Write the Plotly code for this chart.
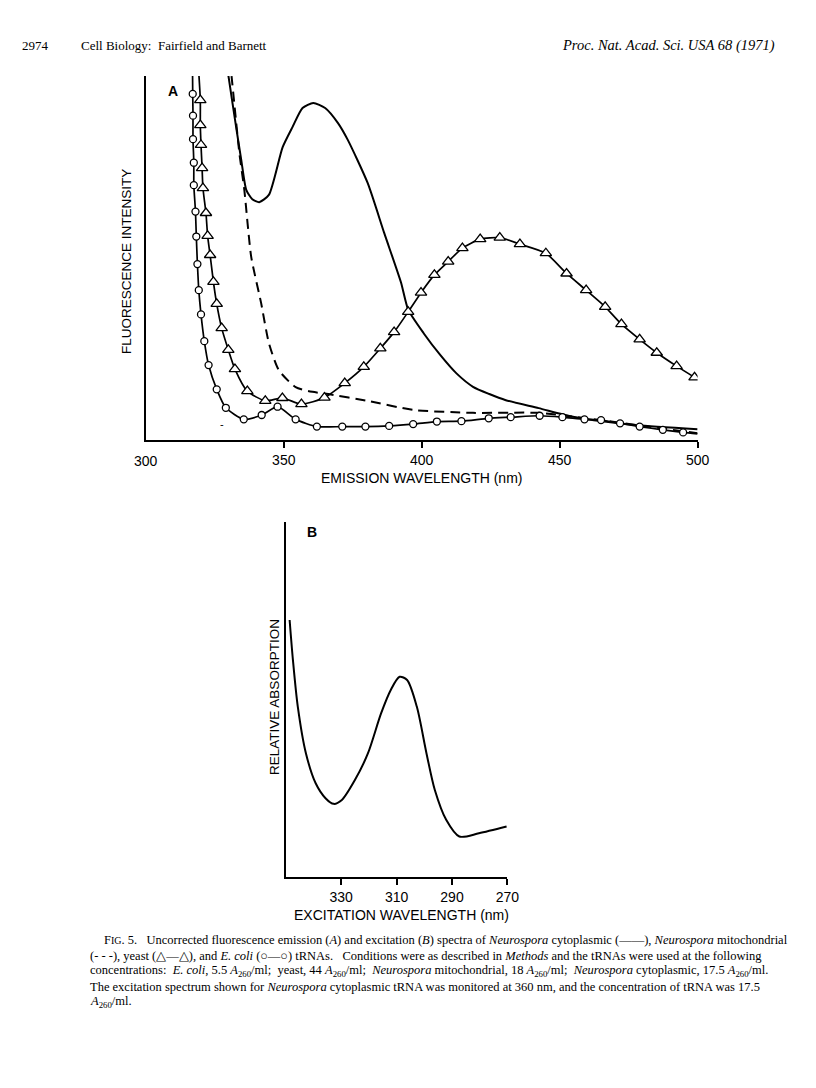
import plotly.graph_objects as go

W, H = 816, 1088

# ---------------- Panel A: emission spectra (arbitrary intensity units) ----------------
A_ticks = [350, 400, 450, 500]
A_ticktext = ["350", "400", "450", "500"]

cyto_wl = [329.1, 330.0, 332.9, 334.6, 336.4, 338.6, 341.1, 344.6, 349.6, 353.2, 356.8, 360.7,
           365.0, 369.6, 373.2, 380.4, 386.4, 392.5, 395.1, 400.7, 406.7, 412.6, 418.6, 424.5,
           430.5, 442.4, 454.3, 466.2, 478.1, 500.0]
cyto_int = [105.0, 100.3, 85.6, 77.3, 69.1, 66.5, 65.7, 67.7, 80.9, 86.5, 91.7, 93.1,
            91.7, 87.6, 82.9, 71.0, 57.2, 43.5, 36.0, 29.5, 23.5, 18.4, 14.7, 12.7,
            11.0, 8.8, 6.5, 5.1, 4.1, 3.0]

mito_wl = [330.4, 331.1, 333.9, 335.7, 338.2, 341.8, 344.6, 348.2, 354.3, 360.4, 366.1, 380.4,
           397.1, 418.6, 442.5, 458.9, 478.2, 500.0]
mito_int = [105.0, 100.3, 79.3, 69.1, 50.6, 37.8, 26.8, 19.3, 14.6, 13.3, 12.7, 10.8,
            8.3, 7.5, 7.5, 6.1, 4.1, 1.9]

yeast_wl = [318.9, 319.75, 319.75, 320.0, 320.4, 320.7, 321.8, 322.4, 323.3, 324.5, 325.7, 327.5,
            329.9, 332.3, 336.8, 343.3, 349.5, 356.4, 364.75, 372.1, 379.0, 385.0, 390.0, 395.1,
            399.75, 404.6, 409.6, 414.75, 421.2, 428.3, 435.6, 445.0, 452.5, 459.6, 466.5, 472.4,
            479.0, 485.2, 492.4, 498.9]
yeast_int = [105.0, 93.9, 87.0, 81.5, 75.1, 69.6, 62.7, 56.4, 51.1, 43.7, 37.6, 30.9,
             24.9, 19.6, 13.5, 10.8, 11.6, 9.9, 11.7, 15.7, 20.2, 25.3, 29.8, 35.4,
             40.7, 45.6, 49.3, 53.0, 55.5, 55.9, 54.1, 51.6, 46.0, 41.4, 36.8, 32.0,
             27.8, 24.1, 20.4, 17.3]

ecoli_wl = [316.9, 317.0, 317.1, 317.1, 317.4, 317.4, 318.0, 318.3, 318.7, 319.2, 320.0, 321.2,
            322.75, 325.7, 329.0, 335.5, 342.0, 347.75, 354.3, 362.0, 371.2, 379.6, 388.2, 396.9,
            405.5, 414.4, 424.3, 432.25, 442.75, 451.0, 459.0, 465.0, 471.9, 479.0, 487.4, 494.75,
            500.0]
ecoli_int = [105.0, 95.6, 89.6, 83.1, 76.6, 70.4, 63.1, 56.2, 48.6, 41.4, 34.7, 27.3,
             20.7, 14.0, 8.9, 5.7, 6.9, 9.2, 5.7, 3.7, 3.7, 3.7, 3.9, 4.4,
             5.1, 5.2, 6.0, 6.3, 6.7, 6.3, 5.7, 5.5, 4.6, 3.7, 2.8, 2.1,
             1.7]
ecoli_sizes = [0] + [7] * (len(ecoli_wl) - 2) + [0]
yeast_sizes = [0] + [10] * (len(yeast_wl) - 1)

# ---------------- Panel B: excitation spectrum ----------------
B_ticks = [330, 310, 290, 270]
B_ticktext = ["330", "310", "290", "270"]

exc_wl = [348.6, 347.4, 345.65, 342.7, 339.2, 335.65, 332.7, 329.75, 325.05, 320.35, 315.6,
          312.1, 308.9, 306.2, 302.7, 299.2, 296.2, 292.1, 287.35, 280.3, 270.3]
exc_abs = [72.4, 61.1, 48.0, 34.8, 26.4, 22.2, 20.6, 21.7, 27.3, 34.8, 46.1,
           52.7, 56.4, 55.5, 48.0, 34.8, 24.5, 16.1, 11.4, 12.3, 14.2]

LET = "Liberation Sans"
SERIF = "Liberation Serif"


def fx(x):
    return x / W


def fy(y):
    return 1 - y / H


fig = go.Figure()

fig.add_trace(go.Scatter(x=cyto_wl, y=cyto_int, mode="lines", xaxis="x", yaxis="y",
                         line=dict(color="black", width=2, shape="spline", smoothing=0.6),
                         showlegend=False))
fig.add_trace(go.Scatter(x=mito_wl, y=mito_int, mode="lines", xaxis="x", yaxis="y",
                         line=dict(color="black", width=2, dash="10px,6px", shape="spline", smoothing=0.6),
                         showlegend=False))
fig.add_trace(go.Scatter(x=yeast_wl, y=yeast_int, mode="lines+markers", xaxis="x", yaxis="y",
                         line=dict(color="black", width=1.7, shape="spline", smoothing=0.6),
                         marker=dict(symbol="triangle-up", size=yeast_sizes, color="white", opacity=1,
                                     line=dict(color="black", width=1.3)),
                         showlegend=False))
fig.add_trace(go.Scatter(x=ecoli_wl, y=ecoli_int, mode="lines+markers", xaxis="x", yaxis="y",
                         line=dict(color="black", width=1.7, shape="spline", smoothing=0.6),
                         marker=dict(symbol="circle", size=ecoli_sizes, color="white", opacity=1,
                                     line=dict(color="black", width=1.3)),
                         showlegend=False))
fig.add_trace(go.Scatter(x=exc_wl, y=exc_abs, mode="lines", xaxis="x2", yaxis="y2",
                         line=dict(color="black", width=2, shape="spline", smoothing=0.8),
                         showlegend=False))

axis_common = dict(showgrid=False, zeroline=False, showline=True, linecolor="black", linewidth=1.6)

fig.update_layout(
    width=W, height=H,
    margin=dict(l=0, r=0, t=0, b=0, pad=0),
    paper_bgcolor="white", plot_bgcolor="white",
    xaxis=dict(domain=[fx(148), fx(708)], range=[300, 500], anchor="y",
               tickvals=A_ticks, ticktext=A_ticktext, ticks="outside", ticklen=6, tickwidth=1.5,
               tickcolor="black", tickfont=dict(family=LET, size=14, color="black"),
               **axis_common),
    yaxis=dict(domain=[fy(440), fy(76)], range=[0, 100.55], anchor="x",
               showticklabels=False, ticks="", **axis_common),
    xaxis2=dict(domain=[fx(290), fx(515)], range=[350, 270], anchor="y2",
                tickvals=B_ticks, ticktext=B_ticktext, ticks="outside", ticklen=6, tickwidth=1.5,
                tickcolor="black", tickfont=dict(family=LET, size=14, color="black"),
                **axis_common),
    yaxis2=dict(domain=[fy(877), fy(522)], range=[0, 100], anchor="x2",
                showticklabels=False, ticks="", **axis_common),
)

ann = []


def text(x, y, s, size=13, family=LET, angle=0, xanchor="center", color="black"):
    ann.append(dict(x=fx(x), y=fy(y), xref="paper", yref="paper", text=s, showarrow=False,
                    textangle=angle, xanchor=xanchor, yanchor="middle",
                    font=dict(family=family, size=size, color=color)))


# header
text(20, 45, "2974", size=13, family=SERIF, xanchor="left")
text(80, 45, "Cell Biology:\u00a0\u00a0Fairfield and Barnett", size=13, family=SERIF, xanchor="left")
text(789, 45, "<i>Proc. Nat. Acad. Sci. USA 68 (1971)</i>", size=14.5, family=SERIF, xanchor="right")

# panel A labels
text(176, 91, "<b>A</b>", size=14)
text(148, 461, "300", size=14)
text(428, 478, "EMISSION WAVELENGTH (nm)", size=14)
text(128, 262, "FLUORESCENCE INTENSITY", size=13.5, angle=-90)
text(225, 424, "-", size=11)

# panel B labels
text(317, 532, "<b>B</b>", size=14)
text(407, 915, "EXCITATION WAVELENGTH (nm)", size=14)
text(278, 697, "RELATIVE ABSORPTION", size=13.5, angle=-90)

# caption
sp = "\u00a0\u00a0\u00a0"
cap = [
    (104, 940, "F<span style='font-size:10px'>IG</span>. 5." + sp + "Uncorrected fluorescence emission (<i>A</i>) and excitation (<i>B</i>) spectra of <i>Neurospora</i> cytoplasmic (——), <i>Neurospora</i> mitochondrial"),
    (89, 956, "(- - -), yeast (△—△), and <i>E. coli</i> (○—○) tRNAs." + sp + "Conditions were as described in <i>Methods</i> and the tRNAs were used at the following"),
    (89, 971, "concentrations:\u00a0\u00a0<i>E. coli</i>, 5.5 <i>A</i><sub>260</sub>/ml;\u00a0\u00a0yeast, 44 <i>A</i><sub>260</sub>/ml;\u00a0\u00a0<i>Neurospora</i> mitochondrial, 18 <i>A</i><sub>260</sub>/ml;\u00a0\u00a0<i>Neurospora</i> cytoplasmic, 17.5 <i>A</i><sub>260</sub>/ml."),
    (89, 987, "The excitation spectrum shown for <i>Neurospora</i> cytoplasmic tRNA was monitored at 360 nm, and the concentration of tRNA was 17.5"),
    (89, 1002, "<i>A</i><sub>260</sub>/ml."),
]
for x, y, s in cap:
    text(x, y, s, size=12.5, family=SERIF, xanchor="left")

fig.update_layout(annotations=ann)

fig.write_html("out.html", config={"displayModeBar": False},
               post_script="document.body.style.margin='0';")
